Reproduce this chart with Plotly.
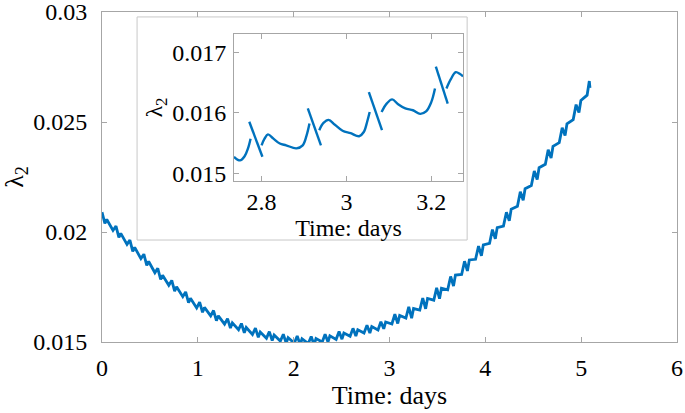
#!/usr/bin/env python3
"""lambda_2 over time, with a zoomed inset around day 3."""
import plotly.graph_objects as go

# main curve (one line per dosing period:
# spike top, spike bottom, hump, trough)
main_days = [
    0.000, 0.030, 0.050, 0.115,
    0.146, 0.176, 0.196, 0.261,
    0.291, 0.321, 0.341, 0.406,
    0.437, 0.467, 0.487, 0.552,
    0.582, 0.612, 0.632, 0.697,
    0.728, 0.758, 0.778, 0.843,
    0.873, 0.903, 0.923, 0.988,
    1.019, 1.049, 1.069, 1.134,
    1.164, 1.194, 1.214, 1.279,
    1.310, 1.340, 1.360, 1.425,
    1.455, 1.485, 1.505, 1.570,
    1.601, 1.631, 1.651, 1.716,
    1.746, 1.776, 1.796, 1.861,
    1.892, 1.922, 1.942, 2.007,
    2.037, 2.067, 2.087, 2.152,
    2.183, 2.213, 2.233, 2.298,
    2.328, 2.358, 2.378, 2.443,
    2.474, 2.504, 2.524, 2.589,
    2.619, 2.649, 2.669, 2.734,
    2.765, 2.795, 2.815, 2.880,
    2.910, 2.940, 2.960, 3.025,
    3.056, 3.086, 3.106, 3.171,
    3.201, 3.231, 3.251, 3.316,
    3.347, 3.377, 3.397, 3.462,
    3.492, 3.522, 3.542, 3.607,
    3.638, 3.668, 3.688, 3.753,
    3.783, 3.813, 3.833, 3.898,
    3.929, 3.959, 3.979, 4.044,
    4.074, 4.104, 4.124, 4.189,
    4.220, 4.250, 4.270, 4.335,
    4.365, 4.395, 4.415, 4.480,
    4.511, 4.541, 4.561, 4.626,
    4.656, 4.686, 4.706, 4.771,
    4.802, 4.832, 4.852, 4.917,
    4.947, 4.977, 4.997, 5.062,
    5.085, 5.092,
]
main_lambda2 = [
    0.02090, 0.02039, 0.02057, 0.02007,
    0.02027, 0.01976, 0.01994, 0.01944,
    0.01963, 0.01912, 0.01930, 0.01879,
    0.01899, 0.01848, 0.01866, 0.01815,
    0.01835, 0.01784, 0.01803, 0.01758,
    0.01780, 0.01731, 0.01751, 0.01706,
    0.01728, 0.01679, 0.01699, 0.01655,
    0.01681, 0.01635, 0.01657, 0.01619,
    0.01643, 0.01597, 0.01619, 0.01581,
    0.01606, 0.01563, 0.01587, 0.01556,
    0.01584, 0.01542, 0.01566, 0.01534,
    0.01563, 0.01521, 0.01545, 0.01517,
    0.01547, 0.01507, 0.01532, 0.01504,
    0.01535, 0.01495, 0.01520, 0.01495,
    0.01527, 0.01489, 0.01515, 0.01493,
    0.01525, 0.01487, 0.01516, 0.01500,
    0.01535, 0.01500, 0.01528, 0.01512,
    0.01548, 0.01513, 0.01541, 0.01526,
    0.01562, 0.01527, 0.01556, 0.01541,
    0.01576, 0.01541, 0.01570, 0.01555,
    0.01592, 0.01560, 0.01591, 0.01582,
    0.01626, 0.01584, 0.01621, 0.01609,
    0.01660, 0.01608, 0.01652, 0.01645,
    0.01700, 0.01651, 0.01698, 0.01690,
    0.01746, 0.01697, 0.01744, 0.01737,
    0.01798, 0.01754, 0.01804, 0.01807,
    0.01867, 0.01823, 0.01873, 0.01876,
    0.01936, 0.01892, 0.01941, 0.01948,
    0.02011, 0.01969, 0.02020, 0.02027,
    0.02090, 0.02051, 0.02104, 0.02117,
    0.02183, 0.02144, 0.02197, 0.02211,
    0.02277, 0.02239, 0.02292, 0.02308,
    0.02374, 0.02336, 0.02389, 0.02406,
    0.02474, 0.02438, 0.02492, 0.02511,
    0.02579, 0.02543, 0.02598, 0.02622,
    0.02686, 0.02655,
]

# inset: smooth pieces, with the steep drop after each dose drawn on its own
inset_days = [
    2.735, 2.749, 2.760, 2.768, 2.774, None,
    2.771, 2.802, None,
    2.800, 2.807, 2.815, 2.828, 2.843, 2.858, 2.882, 2.897, 2.906, 2.913, None,
    2.909, 2.940, None,
    2.936, 2.946, 2.958, 2.973, 2.991, 3.010, 3.030, 3.041, 3.049, 3.055, None,
    3.053, 3.084, None,
    3.083, 3.095, 3.108, 3.122, 3.139, 3.157, 3.174, 3.188, 3.200, 3.209, None,
    3.211, 3.239, None,
    3.236, 3.246, 3.258, 3.268, 3.275,
]
inset_lambda2 = [
    0.01527, 0.01521, 0.01528, 0.01541, 0.01557, None,
    0.01585, 0.01527, None,
    0.01546, 0.01557, 0.01564, 0.01557, 0.01549, 0.01546, 0.01541, 0.01546, 0.01562, 0.01582, None,
    0.01607, 0.01546, None,
    0.01571, 0.01583, 0.01588, 0.01580, 0.01570, 0.01566, 0.01561, 0.01568, 0.01585, 0.01601, None,
    0.01634, 0.01571, None,
    0.01601, 0.01615, 0.01622, 0.01614, 0.01607, 0.01604, 0.01598, 0.01602, 0.01617, 0.01640, None,
    0.01676, 0.01615, None,
    0.01640, 0.01655, 0.01667, 0.01664, 0.01660,
]

main_xticks = [0, 1, 2, 3, 4, 5, 6]
main_yticks = [0.015, 0.02, 0.025, 0.03]
inset_xticks = [2.8, 3, 3.2]
inset_yticks = [0.015, 0.016, 0.017]

BLUE = '#0072BD'
GREY = '#a6a6a6'
FONT = 'Liberation Serif'
SIZE = 24


def main():
    fig = go.Figure()
    fig.add_trace(go.Scatter(x=main_days, y=main_lambda2, mode='lines',
                             line=dict(color=BLUE, width=2.8),
                             showlegend=False, hoverinfo='skip'))
    fig.add_trace(go.Scatter(x=inset_days, y=inset_lambda2, mode='lines',
                             line=dict(color=BLUE, width=2.4, shape='spline'),
                             connectgaps=False, xaxis='x2', yaxis='y2',
                             showlegend=False, hoverinfo='skip'))

    ax = dict(showline=True, linecolor=GREY, linewidth=1, mirror='ticks',
              ticks='inside', ticklen=5, tickcolor=GREY, showgrid=False,
              zeroline=False, ticklabeloverflow='allow', automargin=False,
              tickfont=dict(family=FONT, size=SIZE, color='black'),
              title_font=dict(family=FONT, size=26, color='black'))

    # white panel behind the inset
    fig.add_shape(type='rect', xref='paper', yref='paper',
                  x0=0.061, x1=0.635, y0=0.309, y1=0.985,
                  fillcolor='white', line=dict(color='#c8c8c8', width=1),
                  layer='below')

    fig.update_layout(
        width=685, height=413,
        margin=dict(l=102, r=8, t=12, b=71, autoexpand=False),
        paper_bgcolor='white', plot_bgcolor='rgba(0,0,0,0)',
        xaxis=dict(ax, range=[0, 6], tickvals=main_xticks,
                   ticklabelstandoff=4,
                   title=dict(text='Time: days', standoff=2)),
        yaxis=dict(ax, range=[0.015, 0.03], tickvals=main_yticks,
                   ticklabelstandoff=9,
                   title=dict(text='λ<sub>2</sub>', standoff=14)),
        xaxis2=dict(ax, domain=[0.2296, 0.6278], anchor='y2',
                    range=[2.735, 3.275], tickvals=inset_xticks,
                    ticklabelstandoff=-1,
                    title=dict(text='Time: days', standoff=0,
                               font=dict(size=24))),
        yaxis2=dict(ax, domain=[0.488, 0.933], anchor='x2',
                    range=[0.01487, 0.0173], tickvals=inset_yticks,
                    ticklabelstandoff=2,
                    title=dict(text='λ<sub>2</sub>', standoff=2,
                               font=dict(size=24))),
    )

    # the page's default body margin would push the figure off the window
    fig.write_html('out.html', config={'displayModeBar': False},
                   post_script="document.body.style.margin='0px';")


if __name__ == '__main__':
    main()
